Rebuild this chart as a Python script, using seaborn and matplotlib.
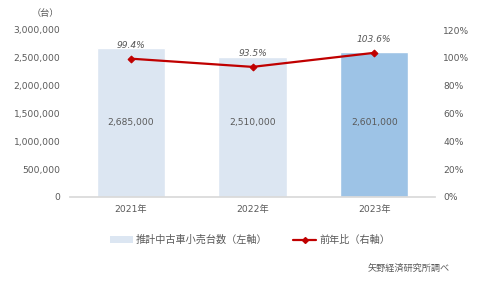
import matplotlib
matplotlib.use("Agg")
import matplotlib.pyplot as plt
import seaborn as sns
import pandas as pd
from matplotlib.ticker import FuncFormatter, MultipleLocator
from matplotlib.lines import Line2D
from matplotlib.patches import Patch

years = ["2021年", "2022年", "2023年"]
units = [2685000, 2510000, 2601000]
ratio = [99.4, 93.5, 103.6]
bar_label = "推計中古車小売台数（左軸）"
line_label = "前年比（右軸）"
source = "矢野経済研究所調べ"

sns.set_theme(style="white")
plt.rcParams['font.family'] = ['DejaVu Sans', 'Noto Sans CJK JP']

grey = "#595959"
fs = 6.6
df = pd.DataFrame({"year": years, "units": units, "ratio": ratio})

fig = plt.figure(figsize=(4.9, 2.88), dpi=100)
ax = fig.add_axes([70/490, 1-197/288, 365/490, 167/288])
sns.barplot(data=df, x="year", y="units", hue="year",
            palette=["#dce6f2", "#dce6f2", "#9dc3e6"], width=0.56,
            legend=False, ax=ax, saturation=1)
ax.set_ylim(0, 3000000)
ax.set_xlim(-0.5, 2.5)
ax.yaxis.set_major_locator(MultipleLocator(500000))
ax.yaxis.set_major_formatter(FuncFormatter(lambda v, p: f"{int(v):,}"))
ax.set_xlabel("")
ax.set_ylabel("")
for s in ["top", "right", "left"]:
    ax.spines[s].set_visible(False)
ax.spines["bottom"].set_color("#d9d9d9")
ax.tick_params(axis="both", length=0, labelsize=fs, colors=grey)
ax.tick_params(axis="y", pad=7)
ax.tick_params(axis="x", pad=6)
for i, v in enumerate(units):
    ax.text(i, 1330000, f"{v:,}", ha="center", va="center", fontsize=fs, color=grey)

ax2 = ax.twinx()
sns.lineplot(x=[0, 1, 2], y=ratio, ax=ax2, color="#c00000", lw=1.6,
             marker="D", markersize=3.5, markeredgecolor="#c00000")
ax2.set_ylim(0, 120)
ax2.yaxis.set_major_locator(MultipleLocator(20))
ax2.yaxis.set_major_formatter(FuncFormatter(lambda v, p: f"{int(v)}%"))
for s in ["top", "right", "left", "bottom"]:
    ax2.spines[s].set_visible(False)
ax2.tick_params(axis="y", length=0, labelsize=fs, colors=grey, pad=6)
for i, v in enumerate(ratio):
    ax2.text(i, v + 6.5, f"{v}%", ha="center", va="bottom", fontsize=fs,
             color=grey, style="italic")

ax.text(-0.03, 1.07, "（台）", transform=ax.transAxes, ha="right", va="bottom",
        fontsize=fs, color=grey)

handles = [Patch(facecolor="#dce6f2", edgecolor="none"),
           Line2D([0], [0], color="#c00000", lw=1.6, marker="D", markersize=3)]
fig.legend(handles, [bar_label, line_label], loc="center", ncol=2,
           bbox_to_anchor=(250/490, 1-240/288), frameon=False, fontsize=7.3,
           labelcolor=grey, handlelength=2.3, handleheight=0.7,
           columnspacing=2.5, handletextpad=0.3)
fig.text(450/490, 1-268/288, source, ha="right", va="center",
         fontsize=fs, color=grey)

fig.savefig("out.png", dpi=100)
